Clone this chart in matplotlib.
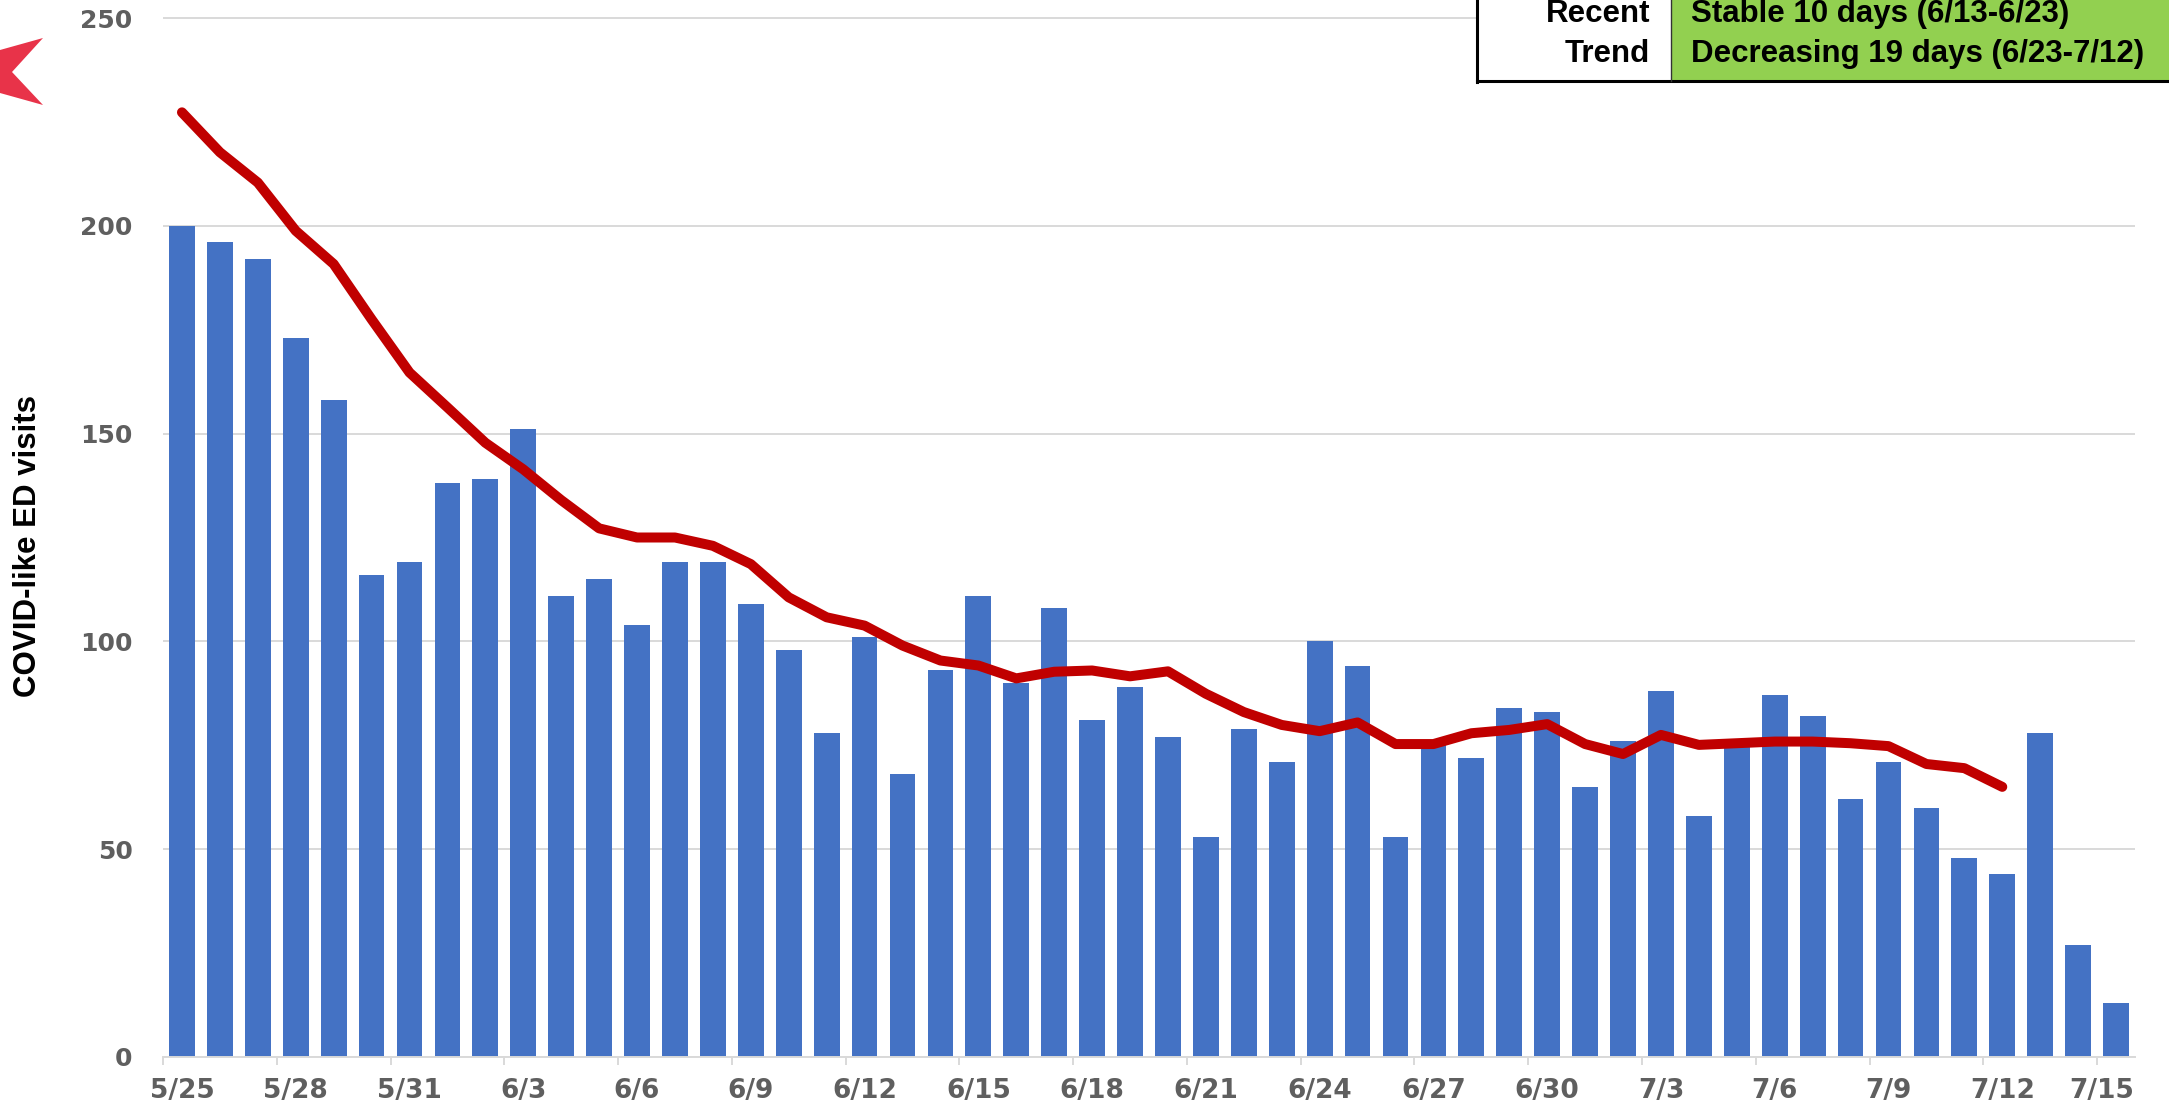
import matplotlib
matplotlib.use("Agg")
import matplotlib.pyplot as plt
from matplotlib import font_manager
from matplotlib.patches import Polygon, Rectangle
from matplotlib.lines import Line2D
from matplotlib.transforms import ScaledTranslation
import numpy as np
import pandas as pd

# daily COVID-like ED visits, 5/25 .. 7/15
days = pd.date_range("2020-05-25", "2020-07-15")
day_labels = [f"{d.month}/{d.day}" for d in days]

visits = [200, 196, 192, 173, 158, 116, 119,
          138, 139, 151, 111, 115, 104, 119, 119, 109, 98,
          78, 101, 68, 93, 111, 90, 108, 81, 89, 77,
          53, 79, 71, 100, 94, 53, 75, 72, 84, 83,
          65, 76, 88, 58, 75, 87, 82, 62, 71, 60,
          48, 44, 78, 27, 13]

# moving average, ends on 7/12
moving_avg = [227.3, 217.7, 210.4, 198.8, 190.8, 177.5, 164.7,
              156.3, 147.8, 141.4, 134.0, 127.2, 125.0, 125.0, 123.0, 118.6, 110.6,
              105.8, 103.8, 99.0, 95.4, 94.2, 91.1, 92.7, 93.0, 91.6, 92.8,
              87.4, 83.0, 79.9, 78.4, 80.5, 75.3, 75.3, 77.9, 78.7, 80.1,
              75.3, 72.9, 77.5, 75.1, 75.5, 75.9, 75.9, 75.5, 74.8, 70.5,
              69.5, 65.0]

y_ticks = [0, 50, 100, 150, 200, 250]
trend_heads = ["Recent", "Trend"]
trend_texts = ["Stable 10 days (6/13-6/23)", "Decreasing 19 days (6/23-7/12)"]

BAR_COLOR = "#4472C4"
LINE_COLOR = "#C00000"
GRID_COLOR = "#D9D9D9"
LABEL_COLOR = "#5f5f5f"

W, H = 2169, 1100


def fx(px):
    return px / W


def fy(py):
    """pixel from the top -> figure fraction"""
    return 1 - py / H


fig = plt.figure(figsize=(W / 100, H / 100), dpi=100)
y0_px, unit_px = 1057, (1057 - 18) / 250
y_top = 252
ax = fig.add_axes([fx(163), fy(y0_px), fx(2135 - 163), y_top * unit_px / H])

x = np.arange(len(visits))
ax.bar(x, visits, width=0.68, color=BAR_COLOR, zorder=2)
ax.plot(np.arange(len(moving_avg)), moving_avg, color=LINE_COLOR, lw=7.2,
        solid_capstyle="round", solid_joinstyle="round", zorder=3)

ax.set_xlim(-0.5, len(visits) - 0.5)
ax.set_ylim(0, y_top)
ax.set_yticks(y_ticks)
ax.yaxis.grid(True, color=GRID_COLOR, lw=1.4)
ax.set_axisbelow(True)
for s in ["top", "right", "left"]:
    ax.spines[s].set_visible(False)
ax.spines["bottom"].set_color(GRID_COLOR)
ax.spines["bottom"].set_linewidth(1.4)

ax.tick_params(axis="y", length=0, pad=22, labelsize=18, labelcolor=LABEL_COLOR)
ax.set_xticks(x[::3], day_labels[::3])
ax.set_xticks(x[::3] - 0.5, minor=True)
ax.tick_params(axis="x", which="major", length=0, pad=15, labelsize=19,
               labelcolor=LABEL_COLOR)
ax.tick_params(axis="x", which="minor", length=6, width=1.4, color=GRID_COLOR)
for lbl in ax.get_xticklabels() + ax.get_yticklabels():
    lbl.set_fontweight("bold")
    lbl.set_family("DejaVu Sans")
last = ax.get_xticklabels()[-1]
last.set_transform(last.get_transform() + ScaledTranslation(-0.14, 0, fig.dpi_scale_trans))

fig.text(fx(28), fy(546), "COVID-like ED visits", rotation=90, ha="center", va="center",
         fontsize=22.5, fontweight="bold", family=["Liberation Sans", "DejaVu Sans"])

# trend box, top right
names = {f.name for f in font_manager.fontManager.ttflist}
if "Liberation Sans Narrow" in names:
    box_font, box_size = "Liberation Sans Narrow", 26.5
else:
    box_font, box_size = "Liberation Sans", 22.5

fig.add_artist(Rectangle((fx(1671), fy(81)), fx(W - 1671), 81 / H,
                         transform=fig.transFigure, facecolor="#92D050", edgecolor="none"))
fig.add_artist(Rectangle((fx(1477), fy(81)), fx(1671 - 1477), 81 / H,
                         transform=fig.transFigure, facecolor="white", edgecolor="none"))
fig.add_artist(Line2D([fx(1477), fx(1477)], [1, fy(82)], color="black", lw=2.2))
fig.add_artist(Line2D([fx(1477), 1], [fy(81), fy(81)], color="black", lw=2.2))
fig.add_artist(Line2D([fx(1671), fx(1671)], [1, fy(81)], color="#333333", lw=1))
for i, (head, txt) in enumerate(zip(trend_heads, trend_texts)):
    base = 22 + 40 * i
    fig.text(fx(1650), fy(base), head, ha="right", va="baseline", fontsize=box_size,
             fontweight="bold", family=[box_font, "DejaVu Sans"])
    fig.text(fx(1691), fy(base), txt, ha="left", va="baseline", fontsize=box_size,
             fontweight="bold", family=[box_font, "DejaVu Sans"])

# red arrow mark at the top left corner
arrow_px = [(0, 50), (43, 38), (12, 72), (43, 105), (0, 93)]
fig.add_artist(Polygon([(fx(a), fy(b)) for a, b in arrow_px], closed=True,
                       transform=fig.transFigure, facecolor="#E83349", edgecolor="none"))

fig.savefig("out.png", dpi=100)
